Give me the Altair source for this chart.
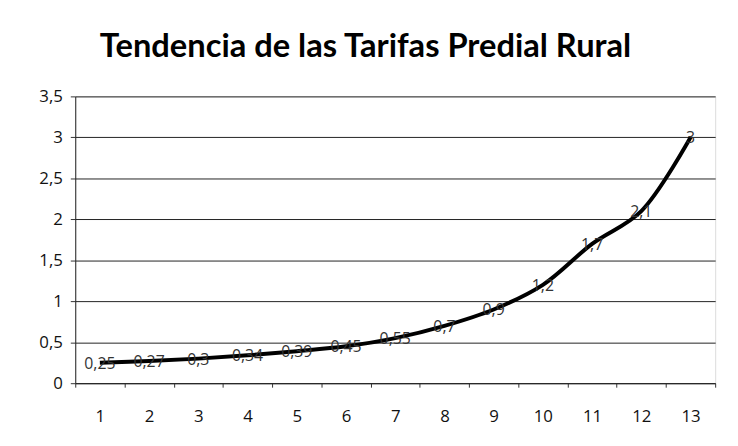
import altair as alt
import pandas as pd

periodos = [str(i) for i in range(1, 14)]
valores = [0.25, 0.27, 0.3, 0.34, 0.39, 0.45, 0.55, 0.7, 0.9, 1.2, 1.7, 2.1, 3]
y_ticks = [0, 0.5, 1, 1.5, 2, 2.5, 3, 3.5]
titulo = "Tendencia de las Tarifas Predial Rural"

df = pd.DataFrame({"periodo": periodos, "valor": valores})

FONT = "Lato"
LFONT = "Open Sans"

x = alt.X("periodo:O", sort=periodos,
          scale=alt.Scale(paddingInner=0, paddingOuter=0),
          axis=alt.Axis(title=None, labelAngle=0, labelFontSize=17, labelFont=LFONT,
                        labelColor="#111", labelPadding=22, tickBand="extent",
                        tickSize=4, tickColor="#333", domainColor="#222",
                        grid=False))
y = alt.Y("valor:Q", scale=alt.Scale(domain=[0, 3.5], nice=False),
          axis=alt.Axis(title=None, values=y_ticks, labelFontSize=17, labelFont=LFONT,
                        labelColor="#111", labelPadding=8, tickSize=5, tickColor="#333",
                        domainColor="#222", gridColor="#222", gridWidth=1,
                        labelExpr="replace(format(datum.value, '~g'), '.', ',')"))

base = alt.Chart(df)

line = base.mark_line(color="#000", strokeWidth=4, interpolate="catmull-rom").encode(x=x, y=y)

labels = base.transform_calculate(
    etiqueta="replace(toString(datum.valor), '.', ',')"
).mark_text(font=LFONT, fontSize=16, color="#333", align="center", baseline="middle", dy=1).encode(
    x=x, y=y, text="etiqueta:N")

chart = alt.layer(line, labels).properties(
    width=647, height=290,
    title=alt.TitleParams(titulo, font=FONT, fontSize=33, fontWeight="bold", color="#000",
                          anchor="middle", offset=24, dx=-30),
    autosize=alt.AutoSizeParams(type="none"),
    padding={"left": 68, "top": 87, "right": 15, "bottom": 50},
).configure_view(stroke=None).configure(background="white")

chart.save("out.html", embed_options={"renderer": "svg", "actions": False})
